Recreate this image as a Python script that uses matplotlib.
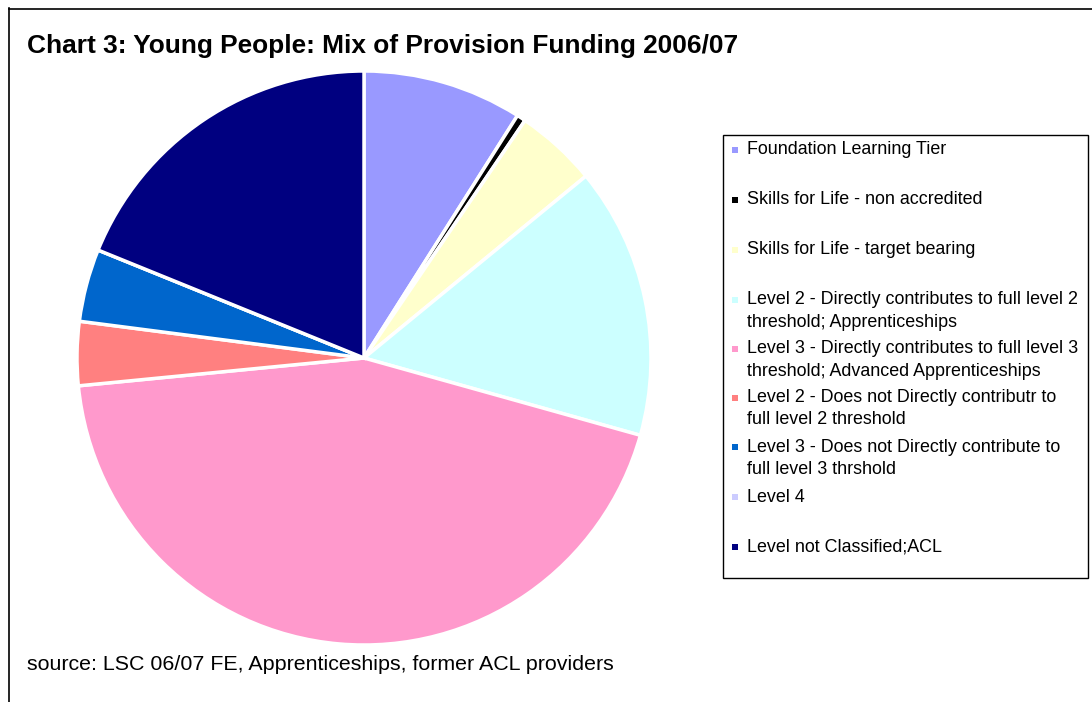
import matplotlib
matplotlib.use("Agg")
import matplotlib.pyplot as plt
from matplotlib.patches import Rectangle
from matplotlib.lines import Line2D

labels = [
    "Foundation Learning Tier",
    "Skills for Life - non accredited",
    "Skills for Life - target bearing",
    "Level 2 - Directly contributes to full level 2\nthreshold; Apprenticeships",
    "Level 3 - Directly contributes to full level 3\nthreshold; Advanced Apprenticeships",
    "Level 2 - Does not Directly contributr to\nfull level 2 threshold",
    "Level 3 - Does not Directly contribute to\nfull level 3 thrshold",
    "Level 4",
    "Level not Classified;ACL",
]
values = [9.0, 0.5, 4.6, 15.3, 44.2, 3.6, 4.1, 0.0, 18.9]
colors = ["#9999FF", "#000000", "#FFFFCC", "#CCFFFF", "#FF99CC",
          "#FF8080", "#0066CC", "#CCCCFF", "#000080"]

title = "Chart 3: Young People: Mix of Provision Funding 2006/07"
source = "source: LSC 06/07 FE, Apprenticeships, former ACL providers"

W, H = 1092, 702
fig = plt.figure(figsize=(W / 100, H / 100), dpi=100)
plt.rcParams['font.family'] = ['Liberation Sans', 'DejaVu Sans']

def fx(x):
    return x / W

def fy(y):
    return 1 - y / H

# outer frame (left and top)
fig.add_artist(Line2D([fx(8.5), fx(8.5)], [fy(8), 0], color="black", lw=1.2, transform=fig.transFigure))
fig.add_artist(Line2D([fx(8.5), 1], [fy(8.5), fy(8.5)], color="black", lw=1.2, transform=fig.transFigure))

# pie
cx, cy, r = 364, 358, 287
ax = fig.add_axes([fx(cx - r), fy(cy + r), 2 * r / W, 2 * r / H])
ax.pie(values, colors=colors, startangle=90, counterclock=False, radius=1,
       wedgeprops=dict(edgecolor="white", linewidth=2.5))
ax.set_xlim(-1, 1)
ax.set_ylim(-1, 1)
ax.set_aspect("auto")
ax.axis("off")

# title
fig.text(fx(27), fy(46), title, fontsize=18.9, fontweight="bold", va="center", ha="left")
# source
fig.text(fx(27), fy(665), source, fontsize=15.4, va="center", ha="left")

# legend box
lx0, ly0, lx1, ly1 = 723, 135, 1088, 578
fig.add_artist(Rectangle((fx(lx0), fy(ly1)), (lx1 - lx0) / W, (ly1 - ly0) / H,
                         transform=fig.transFigure, fill=False, edgecolor="black", lw=1.0))
ys = [150, 200, 250, 300, 349, 398, 447, 497, 547]
for lab, col, y in zip(labels, colors, ys):
    fig.add_artist(Rectangle((fx(732), fy(y + 3)), 6 / W, 6 / H, transform=fig.transFigure,
                             facecolor=col, edgecolor="none"))
    for i, ln in enumerate(lab.split("\n")):
        fig.text(fx(747), fy(y + i * 22), ln, fontsize=12.9, va="center", ha="left")

fig.savefig("out.png", dpi=100)
